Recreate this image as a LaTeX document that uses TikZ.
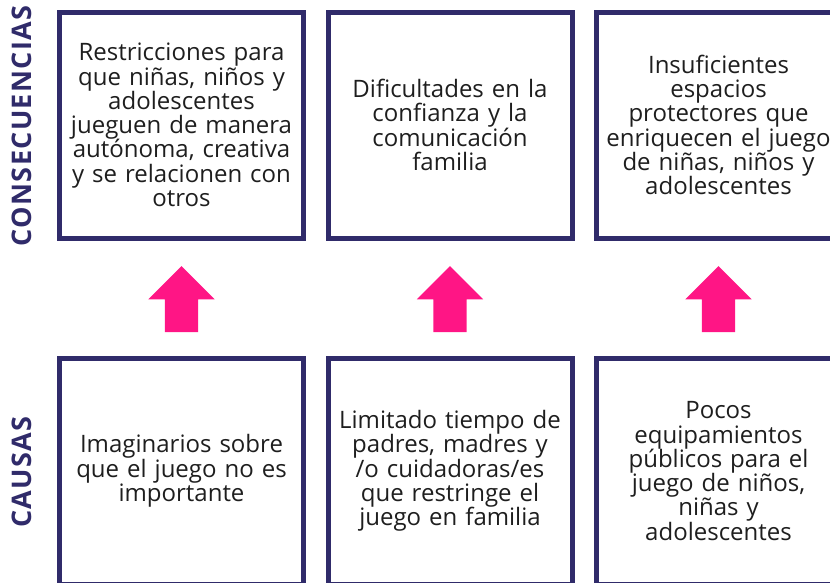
\documentclass[tikz,border=0pt]{standalone}
\usepackage{fontspec}
\setmainfont{Open Sans}
\newfontfamily\labelfont{Open Sans}[LetterSpace=5]
\usetikzlibrary{shapes.arrows}
\definecolor{navy}{HTML}{302B6A}
\definecolor{hotpink}{HTML}{FF1585}
\definecolor{ink}{HTML}{1E1E1E}
\begin{document}
\begin{tikzpicture}[x=1pt,y=-1pt,
  box/.style={draw=navy, line width=5pt, minimum width=244pt, minimum height=226pt,
    text width=240pt, align=center, inner sep=0pt, text=ink,
    font=\fontsize{24pt}{24.3pt}\selectfont},
  uparrow/.style={single arrow, fill=hotpink, draw=none, shape border rotate=90,
    minimum height=66pt, inner sep=16.5pt, single arrow head extend=16.5pt,
    single arrow head indent=0pt},
  rowlabel/.style={rotate=90, text=navy, inner sep=0pt,
    font=\labelfont\bfseries\fontsize{27pt}{30pt}\selectfont}
]
\useasboundingbox (0,0) rectangle (830,582);
\clip (0,0) rectangle (830,582);
\node[box] (c1) at (181.5,125) {Restricciones para\\que niñas, niños y\\adolescentes\\jueguen de manera\\autónoma, creativa\\y se relacionen con\\otros};
\node[box] (c2) at (450,125) {Dificultades en la\\confianza y la\\comunicación\\familia};
\node[box] (c3) at (718.5,125) {Insuficientes\\espacios\\protectores que\\enriquecen el juego\\de niñas, niños y\\adolescentes};
\node[box] (k1) at (181.5,471) {Imaginarios sobre\\que el juego no es\\importante};
\node[box] (k2) at (450,471) {Limitado tiempo de\\padres, madres y\\/o cuidadoras/es\\que restringe el\\juego en familia};
\node[box] (k3) at (718.5,471) {Pocos\\equipamientos\\públicos para el\\juego de niños,\\niñas y\\adolescentes};
\node[uparrow] (a1) at (181.5,307.5) {};
\node[uparrow] (a2) at (450,307.5) {};
\node[uparrow] (a3) at (718.5,307.5) {};
\node[rowlabel] (lc) at (22,126) {CONSECUENCIAS};
\node[rowlabel] (lk) at (22,472) {CAUSAS};
\end{tikzpicture}
\end{document}
